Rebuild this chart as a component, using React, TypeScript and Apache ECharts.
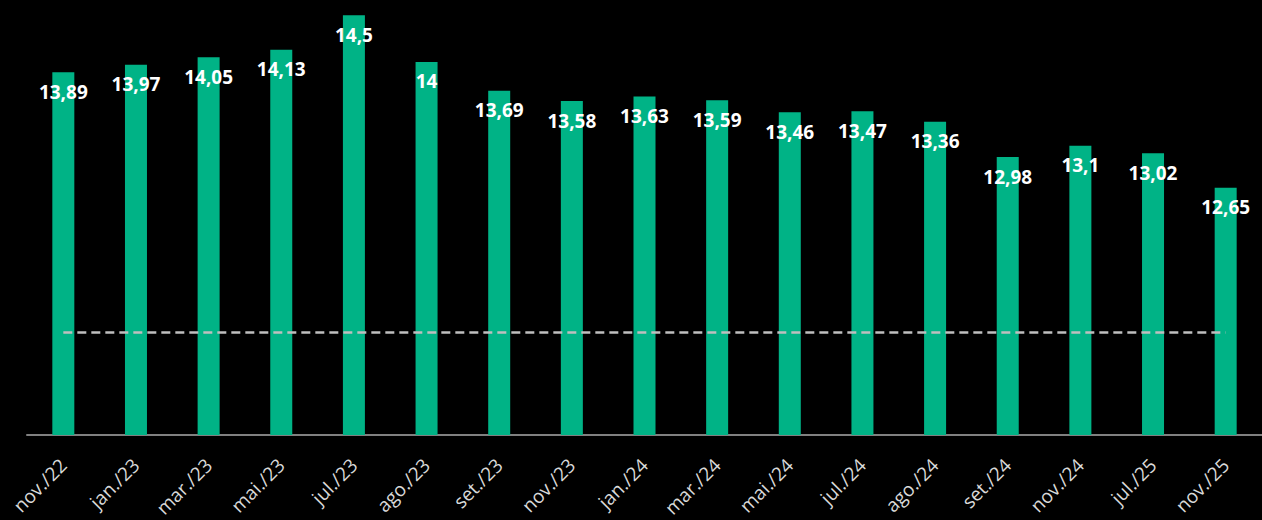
import React, { useEffect, useRef } from "react";
import * as echarts from "echarts";

const categories = [
  "nov./22", "jan./23", "mar./23", "mai./23", "jul./23", "ago./23", "set./23", "nov./23",
  "jan./24", "mar./24", "mai./24", "jul./24", "ago./24", "set./24", "nov./24", "jul./25", "nov./25",
];
const values = [13.89, 13.97, 14.05, 14.13, 14.5, 14, 13.69, 13.58, 13.63, 13.59, 13.46, 13.47, 13.36, 12.98, 13.1, 13.02, 12.65];
const referenceValue = 11.1;

export default function App() {
  const ref = useRef<HTMLDivElement>(null);
  useEffect(() => {
    document.body.style.margin = "0";
    document.body.style.background = "#000";
    const chart = echarts.init(ref.current!, null, { renderer: "svg" });
    chart.setOption({
      animation: false,
      backgroundColor: "#000000",
      grid: { left: 27, right: 0, top: 6, bottom: 84 },
      xAxis: {
        type: "category",
        data: categories,
        axisLine: { show: true, lineStyle: { color: "#808080", width: 2 } },
        axisTick: { show: false },
        axisLabel: {
          rotate: 45,
          color: "#d9d9d9",
          fontFamily: "Open Sans",
          fontSize: 19,
          margin: 27,
          interval: 0,
        },
      },
      yAxis: {
        type: "value",
        min: 10,
        max: 14.6,
        show: false,
        splitLine: { show: false },
      },
      series: [
        {
          type: "bar",
          data: values,
          barWidth: 22,
          itemStyle: { color: "#00b386" },
          label: {
            show: true,
            position: "insideTop",
            distance: 10,
            color: "#ffffff",
            fontFamily: "Open Sans",
            fontWeight: "bold",
            fontSize: 19,
            formatter: (p: any) => String(p.value).replace(".", ","),
          },
          markLine: {
            silent: true,
            symbol: "none",
            label: { show: false },
            lineStyle: { color: "#bfbfbf", type: [9, 5], width: 2.5 },
            data: [[{ coord: [0, referenceValue] }, { coord: [categories.length - 1, referenceValue] }]],
          },
        },
      ],
    });
    return () => chart.dispose();
  }, []);
  return <div ref={ref} style={{ width: 1262, height: 520 }} />;
}
